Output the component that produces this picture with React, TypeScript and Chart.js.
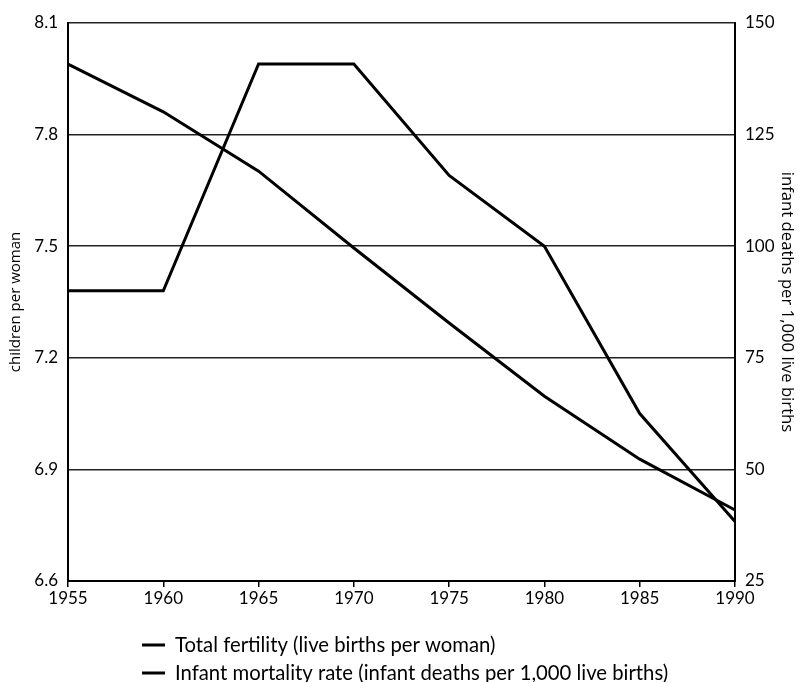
import React, { useEffect, useRef } from "react";
import { Chart, registerables } from "chart.js";

Chart.register(...registerables);

const years = ["1955", "1960", "1965", "1970", "1975", "1980", "1985", "1990"];
const fertility = [7.38, 7.38, 7.99, 7.99, 7.69, 7.5, 7.05, 6.76];
const infantMortality = [140.8, 130.1, 116.8, 99.6, 82.8, 66.4, 52.3, 40.9];
const leftTicks = [6.6, 6.9, 7.2, 7.5, 7.8, 8.1];
const rightTicks = [25, 50, 75, 100, 125, 150];
const seriesLabels = [
  "Total fertility (live births per woman)",
  "Infant mortality rate (infant deaths per 1,000 live births)",
];
const leftTitle = "children per woman";
const rightTitle = "infant deaths per 1,000 live births";

const TICK_FONT = { family: "Lato", size: 17 };
const LEFT_TITLE_FONT = { family: "Open Sans", size: 15 };
const RIGHT_TITLE_FONT = { family: "Open Sans", size: 16.7 };

const legendPlugin = {
  id: "customLegend",
  afterDraw(chart: any) {
    const ctx = chart.ctx as CanvasRenderingContext2D;
    const area = chart.chartArea;
    ctx.save();
    ctx.font = "20.3px Lato";
    ctx.textBaseline = "middle";
    ctx.textAlign = "left";
    ctx.fillStyle = "#000";
    ctx.strokeStyle = "#000";
    ctx.lineWidth = 3;
    seriesLabels.forEach((label, i) => {
      const y = area.bottom + 64 + i * 28;
      ctx.beginPath();
      ctx.moveTo(142, y);
      ctx.lineTo(165, y);
      ctx.stroke();
      ctx.fillText(label, 175, y);
    });
    ctx.restore();
  },
};

export default function App() {
  const ref = useRef<HTMLCanvasElement | null>(null);

  useEffect(() => {
    if (!ref.current) return;
    const chart = new Chart(ref.current, {
      type: "line",
      data: {
        labels: years,
        datasets: [
          {
            label: seriesLabels[0],
            data: fertility,
            yAxisID: "y",
            borderColor: "#000",
            borderWidth: 3,
            pointRadius: 0,
            tension: 0,
            fill: false,
          },
          {
            label: seriesLabels[1],
            data: infantMortality,
            yAxisID: "y1",
            borderColor: "#000",
            borderWidth: 3,
            pointRadius: 0,
            tension: 0,
            fill: false,
          },
        ],
      },
      options: {
        responsive: false,
        animation: false,
        layout: { padding: { top: 23, left: 0, right: 0, bottom: 0 } },
        plugins: {
          legend: { display: false },
          tooltip: { enabled: false },
        },
        scales: {
          x: {
            type: "category",
            offset: false,
            grid: {
              display: true,
              drawOnChartArea: false,
              drawTicks: true,
              tickLength: 6,
              color: "#000",
              lineWidth: 1.5,
            },
            border: { display: true, color: "#000", width: 2 },
            ticks: { color: "#000", font: TICK_FONT, padding: 1, maxRotation: 0, autoSkip: false },
            afterFit: (s: any) => {
              s.height = 101;
            },
          },
          y: {
            type: "linear",
            position: "left",
            min: 6.6,
            max: 8.1,
            afterBuildTicks: (s: any) => {
              s.ticks = leftTicks.map((v) => ({ value: v }));
            },
            grid: { color: "#222", lineWidth: 1.5, drawTicks: false },
            border: { display: true, color: "#000", width: 2 },
            ticks: {
              color: "#000",
              font: TICK_FONT,
              padding: 10,
              callback: (v: any) => Number(v).toFixed(1),
            },
            title: {
              display: true,
              text: leftTitle,
              color: "#000",
              font: LEFT_TITLE_FONT,
              padding: { top: 7, bottom: 0 },
            },
            afterFit: (s: any) => {
              s.width = 68;
            },
          },
          y1: {
            type: "linear",
            position: "right",
            min: 25,
            max: 150,
            afterBuildTicks: (s: any) => {
              s.ticks = rightTicks.map((v) => ({ value: v }));
            },
            grid: { display: false, drawTicks: false },
            border: { display: true, color: "#000", width: 2 },
            ticks: {
              color: "#000",
              font: TICK_FONT,
              padding: 10,
              callback: (v: any) => String(v),
            },
            title: {
              display: true,
              text: rightTitle,
              color: "#000",
              font: RIGHT_TITLE_FONT,
              padding: { top: 4, bottom: 0 },
            },
            afterFit: (s: any) => {
              s.width = 66;
            },
          },
        },
      },
      plugins: [legendPlugin],
    });
    return () => chart.destroy();
  }, []);

  return (
    <div style={{ position: "fixed", left: 0, top: 0, width: 801, height: 682, background: "#fff" }}>
      <canvas ref={ref} width={801} height={682} style={{ display: "block" }} />
    </div>
  );
}
